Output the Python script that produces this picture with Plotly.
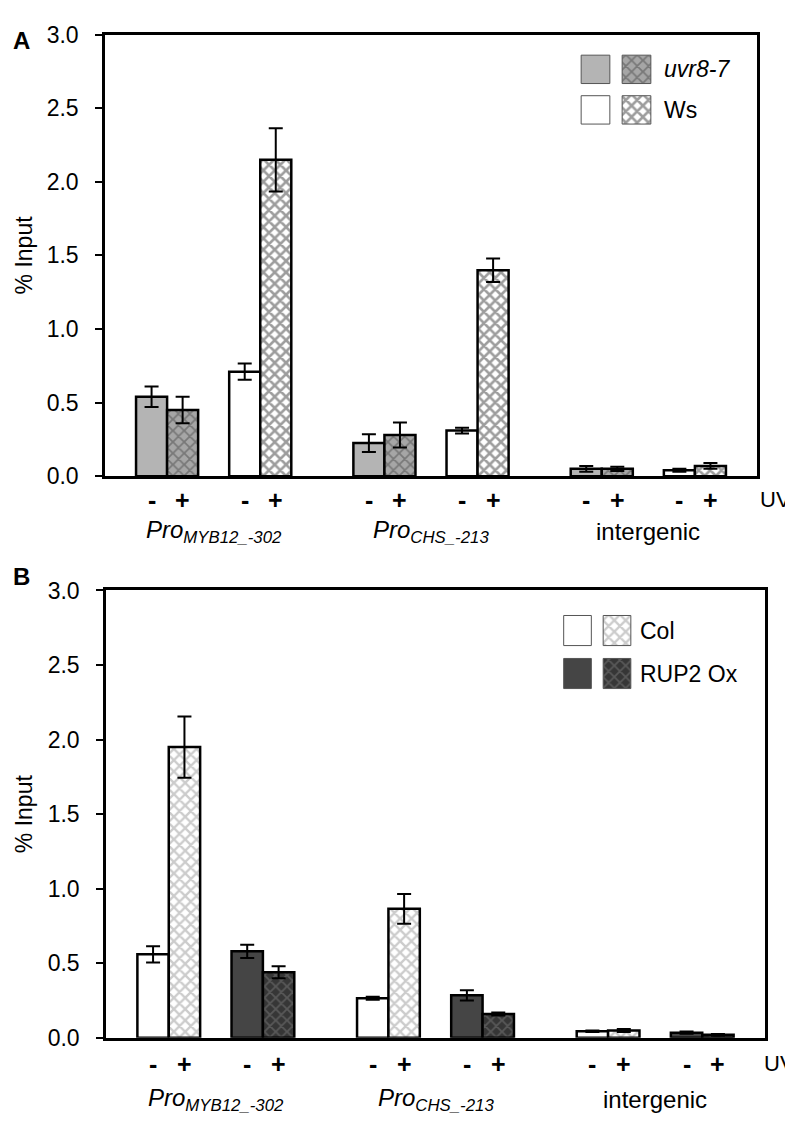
import plotly.graph_objects as go

W, H = 793, 1121
FONT = "Liberation Sans, Arial, sans-serif"

# ---- data ----
groups = ["<i>Pro<sub>MYB12_-302</sub></i>", "<i>Pro<sub>CHS_-213</sub></i>", "intergenic"]
group_x = [3.5, 10.5, 17.5]

# bar positions: two genotypes x two UV states per group
x_first_minus = [1.5, 8.5, 15.5]
x_first_plus = [2.5, 9.5, 16.5]
x_second_minus = [4.5, 11.5, 18.5]
x_second_plus = [5.5, 12.5, 19.5]

# panel A: uvr8-7 and Ws
a_uvr_minus = [0.54, 0.225, 0.05]
a_uvr_minus_err = [0.07, 0.06, 0.02]
a_uvr_plus = [0.45, 0.28, 0.05]
a_uvr_plus_err = [0.09, 0.085, 0.015]
a_ws_minus = [0.71, 0.31, 0.04]
a_ws_minus_err = [0.055, 0.02, 0.01]
a_ws_plus = [2.15, 1.40, 0.07]
a_ws_plus_err = [0.215, 0.08, 0.02]

# panel B: Col and RUP2 Ox
b_col_minus = [0.56, 0.265, 0.045]
b_col_minus_err = [0.055, 0.01, 0.005]
b_col_plus = [1.95, 0.865, 0.05]
b_col_plus_err = [0.205, 0.1, 0.01]
b_rup_minus = [0.58, 0.285, 0.035]
b_rup_minus_err = [0.045, 0.035, 0.008]
b_rup_plus = [0.44, 0.16, 0.02]
b_rup_plus_err = [0.04, 0.01, 0.006]

y_ticks = [0, 0.5, 1.0, 1.5, 2.0, 2.5, 3.0]


def px(x):
    # page pixel -> paper fraction
    return x / W


def py(y):
    return 1 - y / H


STYLE = {
    "uvr_minus": dict(color="#b4b4b4"),
    "uvr_plus": dict(color="#a0a0a0", pattern=dict(shape="x", bgcolor="#a6a6a6", fgcolor="#4a4a4a", size=8, solidity=0.4)),
    "ws_minus": dict(color="white"),
    "ws_plus": dict(color="white", pattern=dict(shape="x", bgcolor="white", fgcolor="#3c3c3c", size=8, solidity=0.55)),
    "col_minus": dict(color="white"),
    "col_plus": dict(color="white", pattern=dict(shape="x", bgcolor="white", fgcolor="#999999", size=8, solidity=0.5)),
    "rup_minus": dict(color="#454545"),
    "rup_plus": dict(color="#383838", pattern=dict(shape="x", bgcolor="#363636", fgcolor="#7a7a7a", size=8, solidity=0.4)),
}


def bar(xs, ys, errs, style, xa, ya):
    m = dict(STYLE[style])
    m["line"] = dict(color="black", width=2.5)
    return go.Bar(
        x=xs, y=ys, width=[1] * len(xs), marker=m,
        error_y=dict(type="data", array=errs, color="black", thickness=2, width=7),
        xaxis=xa, yaxis=ya, showlegend=False, hoverinfo="skip",
    )


fig = go.Figure()
fig.add_trace(bar(x_first_minus, a_uvr_minus, a_uvr_minus_err, "uvr_minus", "x", "y"))
fig.add_trace(bar(x_first_plus, a_uvr_plus, a_uvr_plus_err, "uvr_plus", "x", "y"))
fig.add_trace(bar(x_second_minus, a_ws_minus, a_ws_minus_err, "ws_minus", "x", "y"))
fig.add_trace(bar(x_second_plus, a_ws_plus, a_ws_plus_err, "ws_plus", "x", "y"))

fig.add_trace(bar(x_first_minus, b_col_minus, b_col_minus_err, "col_minus", "x2", "y2"))
fig.add_trace(bar(x_first_plus, b_col_plus, b_col_plus_err, "col_plus", "x2", "y2"))
fig.add_trace(bar(x_second_minus, b_rup_minus, b_rup_minus_err, "rup_minus", "x2", "y2"))
fig.add_trace(bar(x_second_plus, b_rup_plus, b_rup_plus_err, "rup_plus", "x2", "y2"))


# legend keys drawn as small bars in their own tiny axes
def legend_key(style, col, row, xa, ya):
    m = dict(STYLE[style])
    m["line"] = dict(color="#555555", width=1)
    return go.Bar(x=[col], y=[0.7], base=[1.15 - row], width=[0.7], marker=m,
                  xaxis=xa, yaxis=ya, showlegend=False, hoverinfo="skip")


fig.add_trace(legend_key("uvr_minus", 0, 0, "x3", "y3"))
fig.add_trace(legend_key("uvr_plus", 1, 0, "x3", "y3"))
fig.add_trace(legend_key("ws_minus", 0, 1, "x3", "y3"))
fig.add_trace(legend_key("ws_plus", 1, 1, "x3", "y3"))
fig.add_trace(legend_key("col_minus", 0, 0, "x4", "y4"))
fig.add_trace(legend_key("col_plus", 1, 0, "x4", "y4"))
fig.add_trace(legend_key("rup_minus", 0, 1, "x4", "y4"))
fig.add_trace(legend_key("rup_plus", 1, 1, "x4", "y4"))

# panel geometry in page pixels: (left, right, top, bottom)
panels = {"A": (97, 749, 14, 466), "B": (98, 757, 583, 1041)}

xcommon = dict(range=[0, 21], showticklabels=False, ticks="", showgrid=False, zeroline=False,
               showline=True, linecolor="black", linewidth=2.5, mirror=True, fixedrange=True)
ycommon = dict(range=[0, 3], tickvals=y_ticks, tickformat=".1f", ticks="outside", ticklen=7,
               tickwidth=2, tickcolor="black", showgrid=False, zeroline=False, showline=True,
               linecolor="black", linewidth=2.5, mirror=True, ticklabelstandoff=12,
               tickfont=dict(size=23, color="black"), fixedrange=True)

la, ra, ta, ba = panels["A"]
lb, rb, tb, bb = panels["B"]

hidden = dict(visible=False, fixedrange=True)


def key_domain(c1, spacing, r1, rspacing):
    xd = [px(c1 - spacing / 2), px(c1 + 1.5 * spacing)]
    yd = [py(r1 + 1.5 * rspacing), py(r1 - rspacing / 2)]
    return xd, yd


ka_x, ka_y = key_domain(587.5, 41, 49.5, 41.5)
kb_x, kb_y = key_domain(569.5, 39.5, 624, 44)

fig.update_layout(
    width=W, height=H, margin=dict(l=0, r=0, t=0, b=0),
    paper_bgcolor="white", plot_bgcolor="rgba(0,0,0,0)",
    barmode="overlay", font=dict(family=FONT, color="black"),
    xaxis=dict(xcommon, domain=[px(la), px(ra)], anchor="y"),
    yaxis=dict(ycommon, domain=[py(ba), py(ta)], anchor="x"),
    xaxis2=dict(xcommon, domain=[px(lb), px(rb)], anchor="y2"),
    yaxis2=dict(ycommon, domain=[py(bb), py(tb)], anchor="x2"),
    xaxis3=dict(hidden, range=[-0.5, 1.5], domain=ka_x, anchor="y3"),
    yaxis3=dict(hidden, range=[0, 2], domain=ka_y, anchor="x3"),
    xaxis4=dict(hidden, range=[-0.5, 1.5], domain=kb_x, anchor="y4"),
    yaxis4=dict(hidden, range=[0, 2], domain=kb_y, anchor="x4"),
)


def text(x, y, s, size, **kw):
    d = dict(x=px(x), y=py(y), xref="paper", yref="paper", text=s, showarrow=False,
             xanchor="center", yanchor="middle", font=dict(size=size, color="black"))
    d.update(kw)
    return d


ann = []
for xa, ya, (left, right, top, bottom), shift_pm, shift_grp, uv_x in (
        ("x", "y", panels["A"], -24, -55, 767), ("x2", "y2", panels["B"], -26, -62, 771)):
    for xs, sign in ((x_first_minus, "<b>-</b>"), (x_first_plus, "<b>+</b>"),
                     (x_second_minus, "<b>-</b>"), (x_second_plus, "<b>+</b>")):
        for xv in xs:
            ann.append(dict(x=xv, y=0, xref=xa, yref=ya, text=sign, showarrow=False,
                            xanchor="center", yanchor="middle",
                            yshift=shift_pm, font=dict(size=25, color="black")))
    ann.append(text(uv_x, bottom - shift_pm, "UV", 22))
    for gx, g in zip(group_x, groups):
        ann.append(dict(x=gx, y=0, xref=xa, yref=ya, text=g, showarrow=False,
                        xanchor="center", yanchor="middle",
                        yshift=shift_grp, font=dict(size=24, color="black")))
    # y-axis title
    ann.append(text(16, (top + bottom) / 2, "% Input", 23, textangle=-90))

# panel letters
ann.append(text(3, 20, "<b>A</b>", 24, xanchor="left"))
ann.append(text(3, 569, "<b>B</b>", 24, xanchor="left"))

# legend texts
ann.append(text(654, 49.5, "<i>uvr8-7</i>", 23, xanchor="left"))
ann.append(text(654, 91, "Ws", 23, xanchor="left"))
ann.append(text(630, 624, "Col", 23, xanchor="left"))
ann.append(text(630, 668, "RUP2 Ox", 23, xanchor="left"))

fig.update_layout(annotations=ann)

fig.write_html("out.html")
